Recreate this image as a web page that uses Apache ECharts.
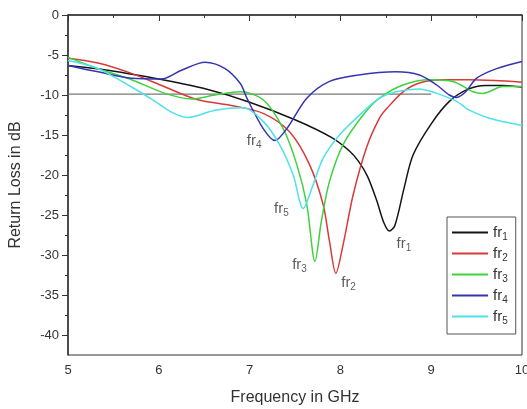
<!DOCTYPE html>
<html>
<head>
<meta charset="utf-8">
<script src="https://cdn.jsdelivr.net/npm/echarts@6/dist/echarts.min.js"></script>
<style>
  html, body { margin: 0; padding: 0; background: #fff; }
  #chart_div { width: 527px; height: 409px; }
</style>
</head>
<body>
<div id="chart_div"></div>
<script>
// 曲线数据 (GHz, dB)
var fr1X = [5, 5.3, 5.7, 6.0, 6.5, 7.0, 7.5, 7.9, 8.1, 8.2, 8.3, 8.4, 8.48, 8.54, 8.6, 8.7, 8.8, 9.0, 9.2, 9.4, 9.6, 9.8, 10]
var fr1Y = [-6.3, -6.7, -7.4, -8.0, -9.2, -10.9, -13.1, -15.3, -17.0, -18.3, -20.2, -23.2, -26.0, -27.0, -26.3, -21.7, -17.5, -13.6, -10.8, -9.3, -8.8, -8.8, -9.0]

var fr2X = [5, 5.33, 5.7, 6.07, 6.43, 6.8, 7.15, 7.44, 7.66, 7.81, 7.88, 7.95, 8.03, 8.14, 8.29, 8.43, 8.51, 8.69, 8.87, 9.13, 9.42, 9.7, 10]
var fr2Y = [-5.4, -6.0, -7.3, -9.0, -10.6, -11.3, -12.3, -14.6, -18.7, -23.7, -28.3, -32.3, -28.7, -22.5, -16.5, -12.9, -11.7, -9.6, -8.5, -8.1, -8.1, -8.2, -8.4]

var fr3X = [5, 5.33, 5.7, 6.07, 6.36, 6.62, 6.9, 7.15, 7.37, 7.52, 7.63, 7.72, 7.79, 7.88, 8.03, 8.25, 8.43, 8.69, 8.98, 9.24, 9.46, 9.57, 9.79, 10]
var fr3Y = [-5.3, -6.7, -8.1, -9.8, -10.5, -10.0, -9.6, -10.6, -14.2, -18.7, -23.7, -30.8, -25.8, -20.8, -16.2, -12.5, -10.4, -8.75, -8.1, -8.3, -9.6, -9.8, -8.95, -8.95]

var fr4X = [5, 5.33, 5.7, 6.03, 6.25, 6.51, 6.73, 6.9, 6.97, 7.15, 7.28, 7.41, 7.63, 7.88, 8.2, 8.61, 8.87, 9.06, 9.2, 9.28, 9.38, 9.5, 9.72, 10]
var fr4Y = [-6.3, -7.1, -7.9, -8.0, -6.9, -5.9, -6.7, -8.6, -10.4, -14.2, -15.7, -14.2, -10.4, -8.3, -7.5, -7.1, -7.5, -8.75, -10.0, -10.3, -9.6, -7.9, -6.7, -5.8]

var fr5X = [5, 5.33, 5.7, 5.96, 6.15, 6.32, 6.62, 6.93, 7.15, 7.33, 7.48, 7.59, 7.70, 7.81, 7.99, 8.25, 8.43, 8.61, 8.87, 9.06, 9.28, 9.42, 9.64, 10]
var fr5Y = [-5.7, -6.7, -9.0, -10.8, -12.2, -12.8, -11.9, -11.6, -13.3, -16.2, -20.0, -24.2, -21.2, -17.9, -15.0, -12.1, -10.4, -9.6, -9.25, -9.8, -10.8, -11.9, -12.9, -13.8]

// -10 dB 参考线
var refX = [5, 9.0]
var refY = [-9.9, -9.9]

// 曲线标注
var annoNames = ['1', '2', '3', '4', '5']
var annoX = [8.70, 8.09, 7.55, 7.05, 7.35]
var annoY = [-28.6, -33.5, -31.25, -15.75, -24.25]

// 刻度
var yMajorTicks = [-40, -35, -30, -25, -20, -15, -10, -5, 0]
var yMinorTicks = [-37.5, -32.5, -27.5, -22.5, -17.5, -12.5, -7.5, -2.5]

var seriesNames = ['fr1', 'fr2', 'fr3', 'fr4', 'fr5']
var seriesX = [fr1X, fr2X, fr3X, fr4X, fr5X]
var seriesY = [fr1Y, fr2Y, fr3Y, fr4Y, fr5Y]
var colors = ['#151515', '#d83a3a', '#3fd23f', '#3535b2', '#4ee2ea']

function pairs(xs, ys) {
  let result = []
  for (let i = 0; i < xs.length; i++) {
    result.push([xs[i], ys[i]])
  }
  return result
}

var font = 'Liberation Sans, Arial, sans-serif'
var subRich = {
  a: { fontSize: 15, fontFamily: font, color: '#333' },
  s: { fontSize: 10, fontFamily: font, color: '#333', padding: [9, 0, 0, 0] }
}

var series = []
for (let i = 0; i < seriesNames.length; i++) {
  series.push({
    name: seriesNames[i],
    type: 'line',
    data: pairs(seriesX[i], seriesY[i]),
    symbol: 'none',
    smooth: 0.3,
    lineStyle: { color: colors[i], width: 1.5 },
    itemStyle: { color: colors[i] },
    z: 3
  })
}
series.push({
  name: 'ref',
  type: 'line',
  data: pairs(refX, refY),
  symbol: 'none',
  lineStyle: { color: '#777', width: 1.2 },
  silent: true,
  z: 2
})
series.push({
  name: 'labels',
  type: 'scatter',
  symbolSize: 0,
  data: annoNames.map(function (n, i) { return { name: n, value: [annoX[i], annoY[i]] } }),
  label: {
    show: true,
    position: 'inside',
    formatter: function (p) { return '{a|fr}{s|' + p.name + '}' },
    rich: subRich
  },
  silent: true
})

var myChart = echarts.init(document.getElementById('chart_div'))
myChart.setOption({
  animation: false,
  backgroundColor: '#fff',
  grid: {
    left: 68, right: 5, top: 15, bottom: 54,
    show: true, borderColor: '#333', borderWidth: 1,
    outerBoundsMode: 'none'
  },
  legend: {
    data: seriesNames,
    orient: 'vertical',
    left: 447, top: 217,
    padding: [8, 8, 8, 4],
    itemWidth: 36, itemHeight: 14, itemGap: 4,
    borderColor: '#555', borderWidth: 1,
    backgroundColor: '#fff',
    itemStyle: { opacity: 0 },
    formatter: function (name) { return '{a|fr}{s|' + name.slice(2) + '}' },
    textStyle: { rich: subRich }
  },
  xAxis: {
    type: 'value',
    min: 5, max: 10, interval: 1,
    name: 'Frequency in GHz',
    nameLocation: 'middle',
    nameGap: 35,
    nameTextStyle: { fontSize: 16, fontFamily: font, color: '#333' },
    axisLine: { lineStyle: { color: '#333', width: 1.5 } },
    axisTick: { length: 6, lineStyle: { color: '#333' } },
    minorTick: { show: true, splitNumber: 2, length: 3, lineStyle: { color: '#333' } },
    axisLabel: { fontSize: 13, fontFamily: font, color: '#333', margin: 9 },
    splitLine: { show: false }
  },
  yAxis: [{
    type: 'value',
    min: -42.5, max: 0,
    name: 'Return Loss in dB',
    nameLocation: 'middle',
    nameGap: 44,
    nameTextStyle: { fontSize: 16, fontFamily: font, color: '#333' },
    axisLine: { lineStyle: { color: '#333', width: 1.5 } },
    axisTick: { length: 6, customValues: yMajorTicks, lineStyle: { color: '#333' } },
    axisLabel: { fontSize: 13, fontFamily: font, color: '#333', margin: 9, customValues: yMajorTicks },
    splitLine: { show: false }
  }, {
    type: 'value',
    position: 'left',
    min: -42.5, max: 0,
    axisLine: { show: false },
    axisTick: { length: 3, customValues: yMinorTicks, lineStyle: { color: '#333' } },
    axisLabel: { show: false },
    splitLine: { show: false }
  }],
  series: series
})
</script>
</body>
</html>
